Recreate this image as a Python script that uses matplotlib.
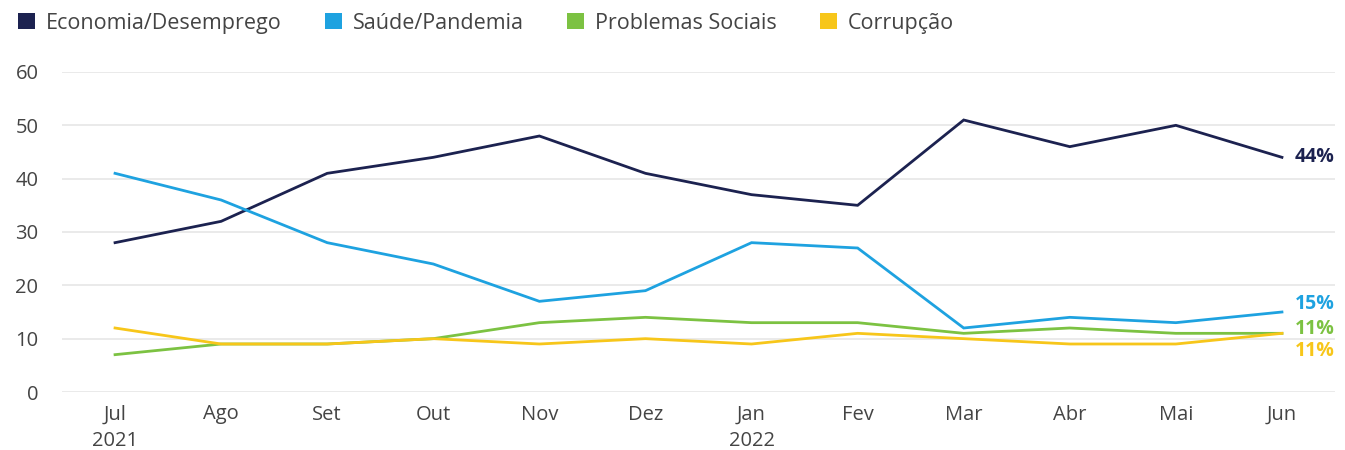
import matplotlib
matplotlib.use("Agg")
import matplotlib.pyplot as plt
from matplotlib.patches import Patch

# ==========================================
# Data
# ==========================================
months = ["Jul\n2021", "Ago", "Set", "Out", "Nov", "Dez", "Jan\n2022",
          "Fev", "Mar", "Abr", "Mai", "Jun"]
economia = [28, 32, 41, 44, 48, 41, 37, 35, 51, 46, 50, 44]
saude = [41, 36, 28, 24, 17, 19, 28, 27, 12, 14, 13, 15]
sociais = [7, 9, 9, 10, 13, 14, 13, 13, 11, 12, 11, 11]
corrupcao = [12, 9, 9, 10, 9, 10, 9, 11, 10, 9, 9, 11]

series_names = ["Economia/Desemprego", "Saúde/Pandemia", "Problemas Sociais", "Corrupção"]
series_vals = [economia, saude, sociais, corrupcao]
colors = ["#1c2250", "#1ea2e0", "#7cc242", "#f7c61a"]
end_labels = ["44%", "15%", "11%", "11%"]
end_offsets = [0, 1.5, 0.9, -3.4]  # nudges so the labels don't collide

plt.rcParams['font.family'] = ['Open Sans', 'DejaVu Sans']

fig = plt.figure(figsize=(13.45, 4.5), dpi=100)
ax = fig.add_axes([62 / 1345, 1 - 392 / 450, (1335 - 62) / 1345, 320 / 450])

x = list(range(len(months)))
for vals, c in zip(series_vals, colors):
    ax.plot(x, vals, color=c, lw=2, solid_joinstyle='miter', zorder=3)

for vals, c, lab, off in zip(series_vals, colors, end_labels, end_offsets):
    ax.text(x[-1] + 0.12, vals[-1] + off, lab, color=c, fontsize=14,
            fontweight='bold', va='center', ha='left')

ax.set_xlim(-0.5, 11.5)
ax.set_ylim(0, 60)
ax.set_yticks(range(0, 61, 10))
ax.set_xticks(x)
ax.set_xticklabels(months, linespacing=1.45)
ax.grid(axis='y', color='#e6e6e6', lw=1.2)
ax.set_axisbelow(True)
for s in ax.spines.values():
    s.set_visible(False)
ax.tick_params(length=0, labelsize=14.5, labelcolor='#444444')
ax.tick_params(axis='y', pad=17)
ax.tick_params(axis='x', pad=9)

handles = [Patch(facecolor=c, label=n) for n, c in zip(series_names, colors)]
fig.legend(handles=handles, loc='upper left', bbox_to_anchor=(-0.001, 1.015),
           ncol=4, frameon=False, fontsize=15.5, handlelength=0.8, handleheight=0.8,
           handletextpad=0.5, columnspacing=2.0, labelcolor='#444444')

fig.savefig("out.png", dpi=100)
